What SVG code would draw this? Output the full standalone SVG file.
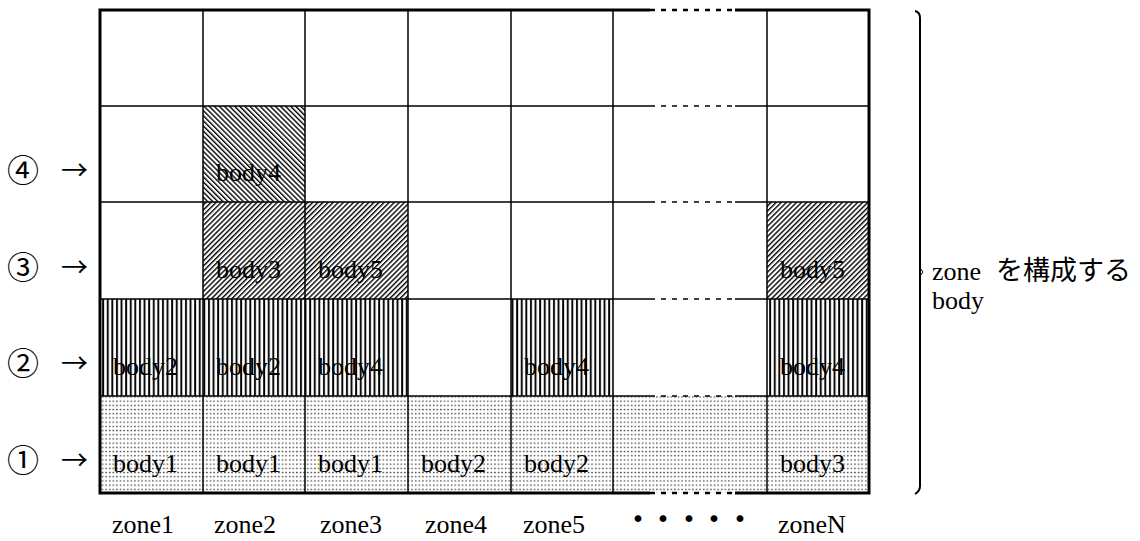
<svg xmlns="http://www.w3.org/2000/svg" width="1140" height="541" viewBox="0 0 1140 541">
  <style>
    .lbl { font-family: "Liberation Serif", "Noto Sans CJK JP", serif; font-size: 26px; fill: #000; }
    .zone { font-family: "Liberation Serif", "Noto Sans CJK JP", serif; font-size: 26px; fill: #000; }
    .num { font-family: "Noto Sans CJK JP", "DejaVu Sans", sans-serif; font-size: 32px; fill: #000; }
    .arr { font-family: "Noto Sans CJK JP", "DejaVu Sans", sans-serif; font-size: 27px; fill: #000; }
    .grid { stroke: #000; stroke-width: 1.5; fill: none; }
    .border { stroke: #000; stroke-width: 3; fill: none; }
    .dash { stroke: #000; stroke-width: 1.5; fill: none; stroke-dasharray: 5 6; }
    .dashb { stroke: #000; stroke-width: 2.5; fill: none; stroke-dasharray: 5 6; }
  </style>
  <defs>
    <pattern id="dots" patternUnits="userSpaceOnUse" width="3.6" height="4.2">
      <rect width="3.6" height="4.2" fill="#fff"/>
      <rect x="1" y="1.5" width="1.4" height="1.3" fill="#333"/>
    </pattern>
    <pattern id="vstripe" patternUnits="userSpaceOnUse" width="4.6" height="10">
      <rect width="4.6" height="10" fill="#fff"/>
      <rect x="1" y="0" width="1.9" height="10" fill="#000"/>
    </pattern>
    <pattern id="hatchF" patternUnits="userSpaceOnUse" width="3.6" height="10" patternTransform="rotate(45)">
      <rect width="3.6" height="10" fill="#fff"/>
      <rect x="0" y="0" width="1.4" height="10" fill="#000"/>
    </pattern>
    <pattern id="hatchB" patternUnits="userSpaceOnUse" width="3.6" height="10" patternTransform="rotate(-45)">
      <rect width="3.6" height="10" fill="#fff"/>
      <rect x="0" y="0" width="1.4" height="10" fill="#000"/>
    </pattern>
  </defs>

  <rect width="1140" height="541" fill="#fff"/>

  <!-- cell fills -->
  <g id="fills">
    <rect x="100" y="396" width="769" height="97" fill="url(#dots)"/>
    <rect x="100" y="299" width="308" height="97" fill="url(#vstripe)"/>
    <rect x="511" y="299" width="102" height="97" fill="url(#vstripe)"/>
    <rect x="767" y="299" width="102" height="97" fill="url(#vstripe)"/>
    <rect x="203" y="202" width="205" height="97" fill="url(#hatchF)"/>
    <rect x="767" y="202" width="102" height="97" fill="url(#hatchF)"/>
    <rect x="203" y="106" width="102" height="96" fill="url(#hatchB)"/>
  </g>

  <!-- grid lines -->
  <g id="grid">
    <path class="grid" d="M203,10 V493 M305,10 V493 M408,10 V493 M511,10 V493 M613,10 V493 M767,10 V493"/>
    <path class="grid" d="M100,106 H650 M735,106 H869 M100,202 H650 M735,202 H869 M100,299 H650 M735,299 H869 M100,396 H650 M735,396 H869"/>
    <path class="dash" d="M650,106 H735 M650,202 H735 M650,299 H735 M650,396 H735"/>
    <path class="border" d="M650,10 H100 V493 H650 M735,493 H869 V10 H735"/>
    <path class="dashb" d="M650,10 H735 M650,493 H735"/>
  </g>

  <!-- zone columns with body labels -->
  <g id="zone1">
    <text class="lbl" x="113" y="375">body2</text>
    <text class="lbl" x="113" y="472">body1</text>
    <text class="zone" x="112" y="533">zone1</text>
  </g>
  <g id="zone2">
    <text class="lbl" x="216" y="181">body4</text>
    <text class="lbl" x="216" y="278">body3</text>
    <text class="lbl" x="216" y="375">body2</text>
    <text class="lbl" x="216" y="472">body1</text>
    <text class="zone" x="214" y="533">zone2</text>
  </g>
  <g id="zone3">
    <text class="lbl" x="318" y="278">body5</text>
    <text class="lbl" x="318" y="375">body4</text>
    <text class="lbl" x="318" y="472">body1</text>
    <text class="zone" x="320" y="533">zone3</text>
  </g>
  <g id="zone4">
    <text class="lbl" x="421" y="472">body2</text>
    <text class="zone" x="425" y="533">zone4</text>
  </g>
  <g id="zone5">
    <text class="lbl" x="524" y="375">body4</text>
    <text class="lbl" x="524" y="472">body2</text>
    <text class="zone" x="523" y="533">zone5</text>
  </g>
  <g id="zoneDots">
    <text class="num" font-size="14" text-anchor="middle" x="638 663 689 714 740" y="531">・・・・・</text>
  </g>
  <g id="zoneN">
    <text class="lbl" x="780" y="278">body5</text>
    <text class="lbl" x="780" y="375">body4</text>
    <text class="lbl" x="780" y="472">body3</text>
    <text class="zone" x="778" y="533">zoneN</text>
  </g>

  <!-- row labels -->
  <g id="rowLabels">
    <text class="num" x="7" y="182">④</text>
    <text class="num" x="7" y="279">③</text>
    <text class="num" x="7" y="375">②</text>
    <text class="num" x="7" y="472">①</text>
  </g>

  <!-- connectors (row arrows and brace) -->
  <g id="connectors">
    <text class="arr" x="61" y="180">→</text>
    <text class="arr" x="61" y="277">→</text>
    <text class="arr" x="61" y="373">→</text>
    <text class="arr" x="61" y="470">→</text>
    <path d="M915,11 Q920,12 920,18 V486 Q920,491 915,494" stroke="#000" stroke-width="2" fill="none"/>
    <path d="M920,268 L923,272 L920,276" stroke="#000" stroke-width="1" fill="none"/>
  </g>

  <g id="braceLabel">
    <text class="lbl" x="932" y="280">zone<tspan x="996" font-size="27" font-family="Noto Sans CJK JP, sans-serif">を構成する</tspan></text>
    <text class="lbl" x="932" y="309">body</text>
  </g>
</svg>
